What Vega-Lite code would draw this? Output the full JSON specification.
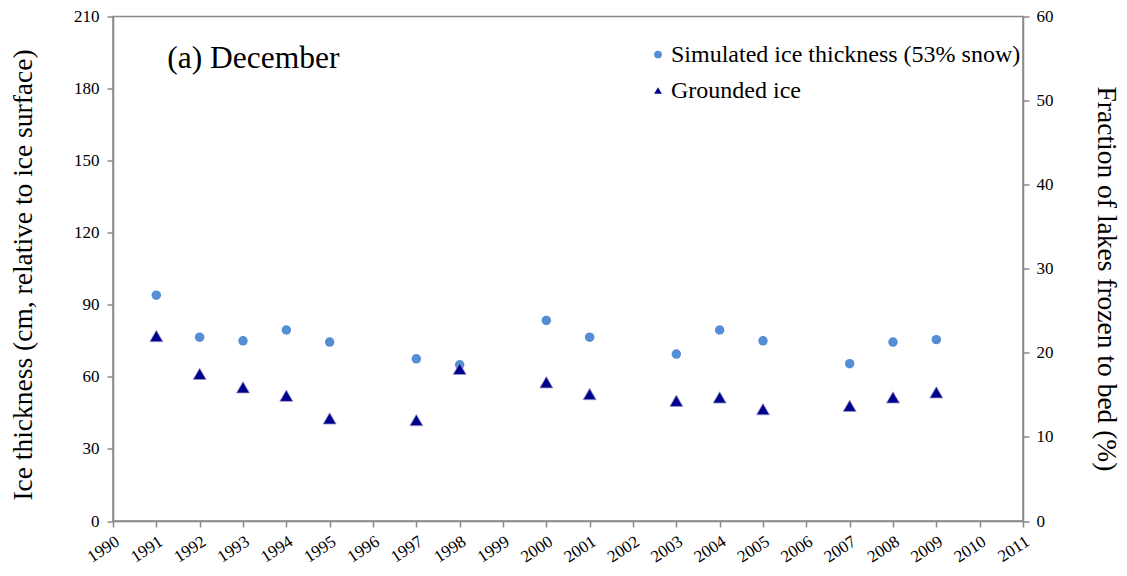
{
  "$schema": "https://vega.github.io/schema/vega-lite/v6.json",
  "autosize": {"type": "none"},
  "width": 910,
  "height": 504.5,
  "padding": {"left": 113, "top": 16.5, "right": 104, "bottom": 55},
  "background": "white",
  "config": {
    "font": "Liberation Serif",
    "view": {"stroke": "#898989", "strokeWidth": 1.5},
    "axis": {
      "grid": false,
      "domainColor": "#898989",
      "domainWidth": 1.5,
      "tickColor": "#898989",
      "tickWidth": 1.5,
      "tickSize": 6,
      "labelFont": "Liberation Serif",
      "labelColor": "black",
      "titleFont": "Liberation Serif",
      "titleColor": "black",
      "titleFontWeight": "normal"
    },
    "legend": {
      "orient": "none",
      "legendX": 533,
      "legendY": 26,
      "title": null,
      "labelFont": "Liberation Serif",
      "labelFontSize": 24,
      "labelColor": "black",
      "symbolSize": 60,
      "symbolStrokeWidth": 0,
      "rowPadding": 12,
      "labelOffset": 1,
      "labelLimit": 500
    }
  },
  "data": {
    "values": [
      {"year": 1991, "series": "Simulated ice thickness (53% snow)", "value": 94},
      {"year": 1992, "series": "Simulated ice thickness (53% snow)", "value": 76.5},
      {"year": 1993, "series": "Simulated ice thickness (53% snow)", "value": 75},
      {"year": 1994, "series": "Simulated ice thickness (53% snow)", "value": 79.5},
      {"year": 1995, "series": "Simulated ice thickness (53% snow)", "value": 74.5},
      {"year": 1997, "series": "Simulated ice thickness (53% snow)", "value": 67.5},
      {"year": 1998, "series": "Simulated ice thickness (53% snow)", "value": 65},
      {"year": 2000, "series": "Simulated ice thickness (53% snow)", "value": 83.5},
      {"year": 2001, "series": "Simulated ice thickness (53% snow)", "value": 76.5},
      {"year": 2003, "series": "Simulated ice thickness (53% snow)", "value": 69.5},
      {"year": 2004, "series": "Simulated ice thickness (53% snow)", "value": 79.5},
      {"year": 2005, "series": "Simulated ice thickness (53% snow)", "value": 75},
      {"year": 2007, "series": "Simulated ice thickness (53% snow)", "value": 65.5},
      {"year": 2008, "series": "Simulated ice thickness (53% snow)", "value": 74.5},
      {"year": 2009, "series": "Simulated ice thickness (53% snow)", "value": 75.5},
      {"year": 1991, "series": "Grounded ice", "value": 22.0},
      {"year": 1992, "series": "Grounded ice", "value": 17.5},
      {"year": 1993, "series": "Grounded ice", "value": 15.9},
      {"year": 1994, "series": "Grounded ice", "value": 14.9},
      {"year": 1995, "series": "Grounded ice", "value": 12.2},
      {"year": 1997, "series": "Grounded ice", "value": 12.0},
      {"year": 1998, "series": "Grounded ice", "value": 18.1},
      {"year": 2000, "series": "Grounded ice", "value": 16.5},
      {"year": 2001, "series": "Grounded ice", "value": 15.1},
      {"year": 2003, "series": "Grounded ice", "value": 14.3},
      {"year": 2004, "series": "Grounded ice", "value": 14.7},
      {"year": 2005, "series": "Grounded ice", "value": 13.3},
      {"year": 2007, "series": "Grounded ice", "value": 13.7},
      {"year": 2008, "series": "Grounded ice", "value": 14.7},
      {"year": 2009, "series": "Grounded ice", "value": 15.3}
    ]
  },
  "encoding": {
    "x": {
      "field": "year",
      "type": "quantitative",
      "scale": {"domain": [1990, 2011], "nice": false, "zero": false},
      "axis": {
        "title": null,
        "values": [1990, 1991, 1992, 1993, 1994, 1995, 1996, 1997, 1998, 1999, 2000, 2001, 2002, 2003, 2004, 2005, 2006, 2007, 2008, 2009, 2010, 2011],
        "format": "d",
        "labelAngle": -33,
        "labelAlign": "right",
        "labelBaseline": "top",
        "labelFontSize": 17,
        "labelPadding": 6,
        "labelOverlap": false
      }
    }
  },
  "layer": [
    {
      "layer": [
        {
          "transform": [{"filter": "datum.series === 'Simulated ice thickness (53% snow)'"}],
          "mark": {"type": "point", "filled": true, "opacity": 1, "size": 90},
          "encoding": {
            "y": {
              "field": "value",
              "type": "quantitative",
              "scale": {"domain": [0, 210], "nice": false},
              "axis": {
                "orient": "left",
                "title": "Ice thickness (cm, relative to ice surface)",
                "values": [0, 30, 60, 90, 120, 150, 180, 210],
                "labelFontSize": 17,
                "labelPadding": 8,
                "titleFontSize": 27.5,
                "titlePadding": 36,
                "titleY": 258
              }
            },
            "color": {
              "field": "series",
              "type": "nominal",
              "scale": {
                "domain": ["Simulated ice thickness (53% snow)", "Grounded ice"],
                "range": ["#558ED5", "#00008F"]
              }
            },
            "shape": {
              "field": "series",
              "type": "nominal",
              "scale": {
                "domain": ["Simulated ice thickness (53% snow)", "Grounded ice"],
                "range": ["circle", "triangle-up"]
              }
            }
          }
        },
        {
          "data": {"values": [{"year": 1991.25, "thickness": 188.5, "label": "(a) December"}]},
          "mark": {"type": "text", "align": "left", "baseline": "alphabetic", "fontSize": 31.5, "font": "Liberation Serif", "color": "black"},
          "encoding": {
            "y": {"field": "thickness", "type": "quantitative", "title": "Ice thickness (cm, relative to ice surface)"},
            "text": {"field": "label"}
          }
        }
      ]
    },
    {
      "transform": [{"filter": "datum.series === 'Grounded ice'"}],
      "mark": {"type": "point", "filled": true, "opacity": 1, "size": 170, "stroke": "#9a9ac4", "strokeWidth": 0.8},
      "encoding": {
        "y": {
          "field": "value",
          "type": "quantitative",
          "scale": {"domain": [0, 60], "nice": false},
          "axis": {
            "orient": "right",
            "title": "Fraction of lakes frozen to bed (%)",
            "values": [0, 10, 20, 30, 40, 50, 60],
            "labelFontSize": 17,
            "labelPadding": 7,
            "titleFontSize": 27.5,
            "titlePadding": 38,
            "titleY": 262
          }
        },
        "color": {"field": "series", "type": "nominal"},
        "shape": {"field": "series", "type": "nominal"}
      }
    }
  ],
  "resolve": {"scale": {"y": "independent"}}
}
